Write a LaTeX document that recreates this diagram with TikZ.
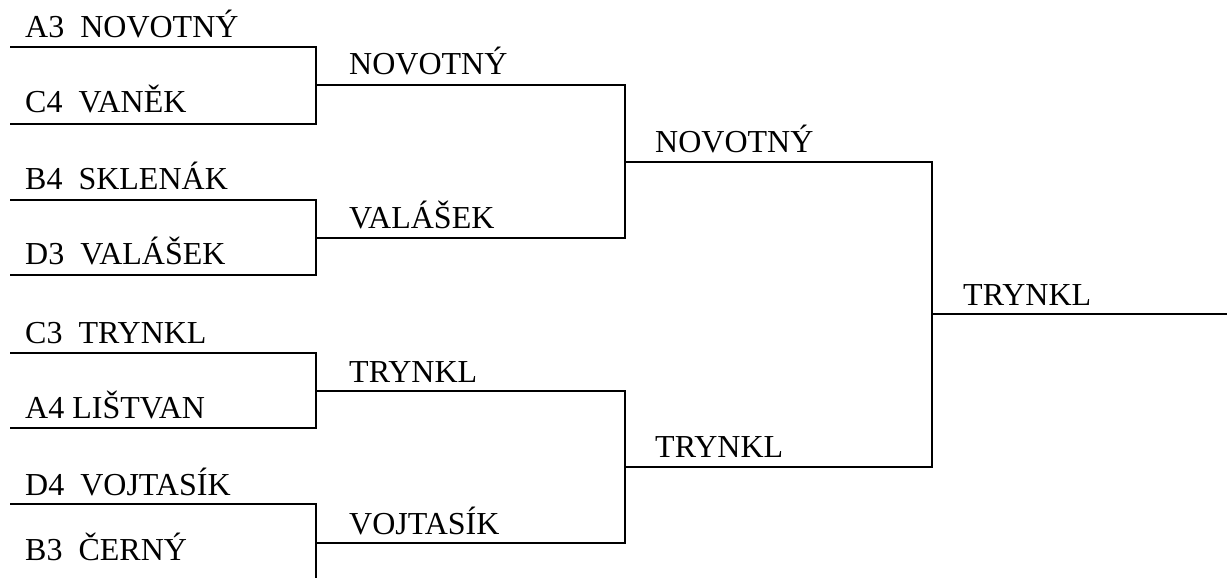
\documentclass[tikz,border=0pt]{standalone}
\usepackage{fontspec}
\setmainfont{Liberation Serif}
\usepackage{tikz}

\tikzset{
  bracket/.style={line width=2, line join=miter},
  player/.style={anchor=base west, inner sep=0pt, font=\fontsize{32}{36}\selectfont},
}

\begin{document}
\begin{tikzpicture}[x=1pt,y=1pt,yscale=-1,xscale=1]
    \useasboundingbox (0,0) rectangle (1227,578);

    % first round slots
    \coordinate (s1) at (10,47);
    \coordinate (s2) at (10,124);
    \coordinate (s3) at (10,200);
    \coordinate (s4) at (10,275);
    \coordinate (s5) at (10,353);
    \coordinate (s6) at (10,428);
    \coordinate (s7) at (10,504);
    \coordinate (s8) at (10,582);
    % second round slots
    \coordinate (q1) at (316,85.5);
    \coordinate (q2) at (316,237.5);
    \coordinate (q3) at (316,390.5);
    \coordinate (q4) at (316,543);
    % semifinal slots
    \coordinate (t1) at (625,161.5);
    \coordinate (t2) at (625,466.75);
    % final
    \coordinate (f) at (932,314);
    \coordinate (win) at (1227,314);

    %Brackets: first round
    \draw [bracket] (s1) -| (q1) |- (s2);
    \draw [bracket] (s3) -| (q2) |- (s4);
    \draw [bracket] (s5) -| (q3) |- (s6);
    \draw [bracket] (s7) -| (q4) |- (s8);
    %Brackets: second round
    \draw [bracket] (q1) -| (t1) |- (q2);
    \draw [bracket] (q3) -| (t2) |- (q4);
    %Brackets: semifinal
    \draw [bracket] (t1) -| (f) |- (t2);
    %Winner line
    \draw [bracket] (f) -- (win);

    % Text Node
    \node (a3) [player] at (25,38) {A3~~NOVOTNÝ};
    % Text Node
    \node (c4) [player] at (25,113) {C4~~VANĚK};
    % Text Node
    \node (b4) [player] at (25,189) {B4~~SKLENÁK};
    % Text Node
    \node (d3) [player] at (25,264) {D3~~VALÁŠEK};
    % Text Node
    \node (c3) [player] at (25,343) {C3~~TRYNKL};
    % Text Node
    \node (a4) [player] at (25,418) {A4 LIŠTVAN};
    % Text Node
    \node (d4) [player] at (25,495) {D4~~VOJTASÍK};
    % Text Node
    \node (b3) [player] at (25,560) {B3~~ČERNÝ};

    % Text Node
    \node (w1) [player] at (349,75) {NOVOTNÝ};
    % Text Node
    \node (w2) [player] at (349,228) {VALÁŠEK};
    % Text Node
    \node (w3) [player] at (349,382) {TRYNKL};
    % Text Node
    \node (w4) [player] at (349,534) {VOJTASÍK};

    % Text Node
    \node (sf1) [player] at (655,152) {NOVOTNÝ};
    % Text Node
    \node (sf2) [player] at (655,457) {TRYNKL};

    % Text Node
    \node (champ) [player] at (963,305) {TRYNKL};

\end{tikzpicture}
\end{document}
